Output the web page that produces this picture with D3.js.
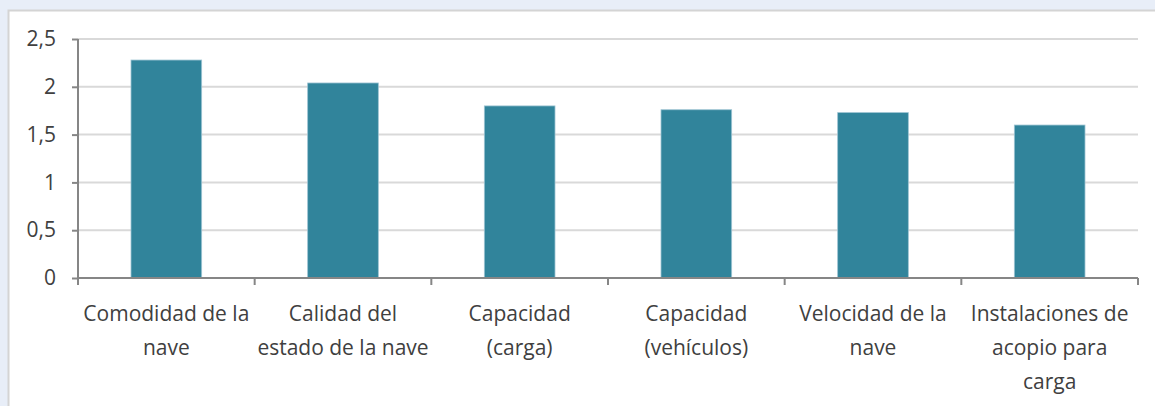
<!DOCTYPE html>
<html>
<head>
<meta charset="utf-8">
<script src="https://cdn.jsdelivr.net/npm/d3@7"></script>
<style>
	body { margin: 0; background: #e8eef8; }
	svg { display: block; }
</style>
</head>
<body>
<div id="chart"></div>
<script>
// chart data
var categories = [
	["Comodidad de la", "nave"],
	["Calidad del", "estado de la nave"],
	["Capacidad", "(carga)"],
	["Capacidad", "(vehículos)"],
	["Velocidad de la", "nave"],
	["Instalaciones de", "acopio para", "carga"]
];
var values = [2.28, 2.04, 1.80, 1.76, 1.73, 1.60];
var yTicks = [0, 0.5, 1, 1.5, 2, 2.5];

var width = 1155, height = 406;
var margin = {left: 78, right: 17, top: 39, bottom: 128};

var svg = d3.select("#chart").append("svg")
	.attr("width", width)
	.attr("height", height);

// white panel
svg.append("rect")
	.attr("x", 8.5)
	.attr("y", 10.5)
	.attr("width", width)
	.attr("height", height)
	.attr("fill", "#fff")
	.attr("stroke", "#d4d4d4")
	.attr("stroke-width", 2);

var x = d3.scaleBand()
	.domain(d3.range(categories.length))
	.range([margin.left, width - margin.right])
	.paddingInner(0.6)
	.paddingOuter(0.3);

var y = d3.scaleLinear()
	.domain([0, 2.5])
	.range([height - margin.bottom, margin.top]);

// gridlines
svg.append("g")
	.selectAll("line")
	.data(yTicks.slice(1))
	.enter()
	.append("line")
	.attr("x1", margin.left)
	.attr("x2", width - margin.right)
	.attr("y1", function(d) { return y(d); })
	.attr("y2", function(d) { return y(d); })
	.attr("stroke", "#d9d9d9")
	.attr("stroke-width", 2);

// bars
svg.append("g")
	.selectAll("rect")
	.data(values)
	.enter()
	.append("rect")
	.attr("x", function(d, i) { return x(i); })
	.attr("y", function(d) { return y(d); })
	.attr("width", x.bandwidth())
	.attr("height", function(d) { return y(0) - y(d); })
	.attr("fill", "#31849b")
	.attr("stroke", "#9cc3d2")
	.attr("stroke-width", 0.8);

// y axis
var yAxis = svg.append("g")
	.attr("transform", "translate(" + margin.left + ",0)")
	.call(d3.axisLeft(y).tickValues(yTicks).tickSize(6).tickPadding(16)
		.tickFormat(function(d) { return String(d).replace(".", ","); }));
yAxis.attr("font-family", "Open Sans, sans-serif").attr("font-size", 21);
yAxis.selectAll("text").attr("fill", "#404040");
yAxis.selectAll("line, path").attr("stroke", "#868686").attr("stroke-width", 2);
yAxis.select(".domain").attr("d", "M0," + y(2.5) + "V" + y(0));

// x axis with ticks at category boundaries
var step = x.step();
var bounds = d3.range(categories.length + 1).map(function(i) { return margin.left + i * step; });
var xAxis = svg.append("g");
xAxis.append("line")
	.attr("x1", margin.left)
	.attr("x2", width - margin.right)
	.attr("y1", y(0))
	.attr("y2", y(0))
	.attr("stroke", "#868686")
	.attr("stroke-width", 2);
xAxis.selectAll("line.tk")
	.data(bounds)
	.enter()
	.append("line")
	.classed("tk", true)
	.attr("x1", function(d) { return d; })
	.attr("x2", function(d) { return d; })
	.attr("y1", y(0))
	.attr("y2", y(0) + 7)
	.attr("stroke", "#868686")
	.attr("stroke-width", 2);

var labels = xAxis.selectAll("text")
	.data(categories)
	.enter()
	.append("text")
	.attr("text-anchor", "middle")
	.attr("font-family", "Open Sans, sans-serif")
	.attr("font-size", "21px")
	.attr("fill", "#404040");
labels.each(function(d, i) {
	var t = d3.select(this);
	for (var j = 0; j < d.length; j++) {
		t.append("tspan")
			.attr("x", x(i) + x.bandwidth() / 2)
			.attr("y", 321 + j * 34)
			.text(d[j]);
	}
});
</script>
</body>
</html>
